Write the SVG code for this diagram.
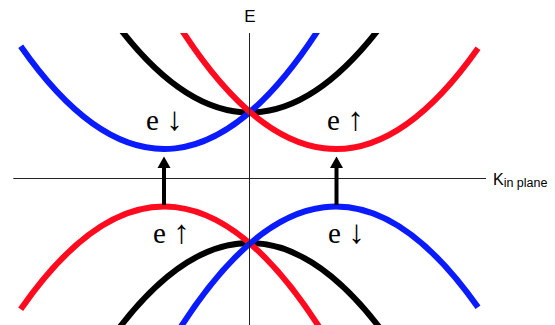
<svg xmlns="http://www.w3.org/2000/svg" width="555" height="325" viewBox="0 0 555 325">
<style>
.band{fill:none;stroke-width:6;stroke-linecap:butt}
.blue{stroke:#0a1bff}
.red{stroke:#ff0a1e}
.black{stroke:#000}
.axis{stroke:#222;stroke-width:1;fill:none}
.lbl{font-family:"Liberation Serif","DejaVu Serif",serif;font-size:29px;fill:#000}
.ar{font-size:33px}
.ax{font-family:"Liberation Sans",Arial,sans-serif;fill:#000}
.arr{stroke:#000;stroke-width:4}
</style>
<defs>
<clipPath id="clip"><rect x="0" y="33" width="555" height="292"/></clipPath>
</defs>
<rect width="555" height="325" fill="#fff"/>
<g clip-path="url(#clip)">
<g id="upper-black"><path class="band black" d="M109.5,14.5 Q249.5,210.5 389.5,14.5"/></g>
<g id="upper-blue"><path class="band blue" d="M20.7,46.33 Q175.35,267.94 330,11.22"/></g>
<g id="upper-red"><path class="band red" d="M170,11.22 Q324,266.86 478,48.18"/></g>
<g id="lower-black"><path class="band black" d="M109.5,341 Q249.5,145 389.5,341"/></g>
<g id="lower-red"><path class="band red" d="M20.7,309.17 Q175.35,87.56 330,344.28"/></g>
<g id="lower-blue"><path class="band blue" d="M170,344.28 Q324,88.64 478,307.32"/></g>
</g>
<g id="axes">
<line class="axis" x1="13.3" y1="178.5" x2="486" y2="178.5"/>
<line class="axis" x1="249.5" y1="33" x2="249.5" y2="325"/>
<text class="ax" x="250" y="22" font-size="17" text-anchor="middle">E</text>
<text class="ax" x="493" y="184.5" font-size="16">K<tspan font-size="12.5" dy="2.5">in plane</tspan></text>
</g>
<g id="connectors">
<line class="arr" x1="164" y1="205" x2="164" y2="167"/>
<polygon points="164,156.5 157.5,168 170.5,168" fill="#000"/>
<line class="arr" x1="336.5" y1="205" x2="336.5" y2="167"/>
<polygon points="336.5,156.5 330,168 343,168" fill="#000"/>
</g>
<g id="labels">
<text class="lbl" x="146" y="130">e <tspan class="ar">↓</tspan></text>
<text class="lbl" x="327" y="130">e <tspan class="ar">↑</tspan></text>
<text class="lbl" x="153" y="243">e <tspan class="ar">↑</tspan></text>
<text class="lbl" x="328" y="243">e <tspan class="ar">↓</tspan></text>
</g>
</svg>
